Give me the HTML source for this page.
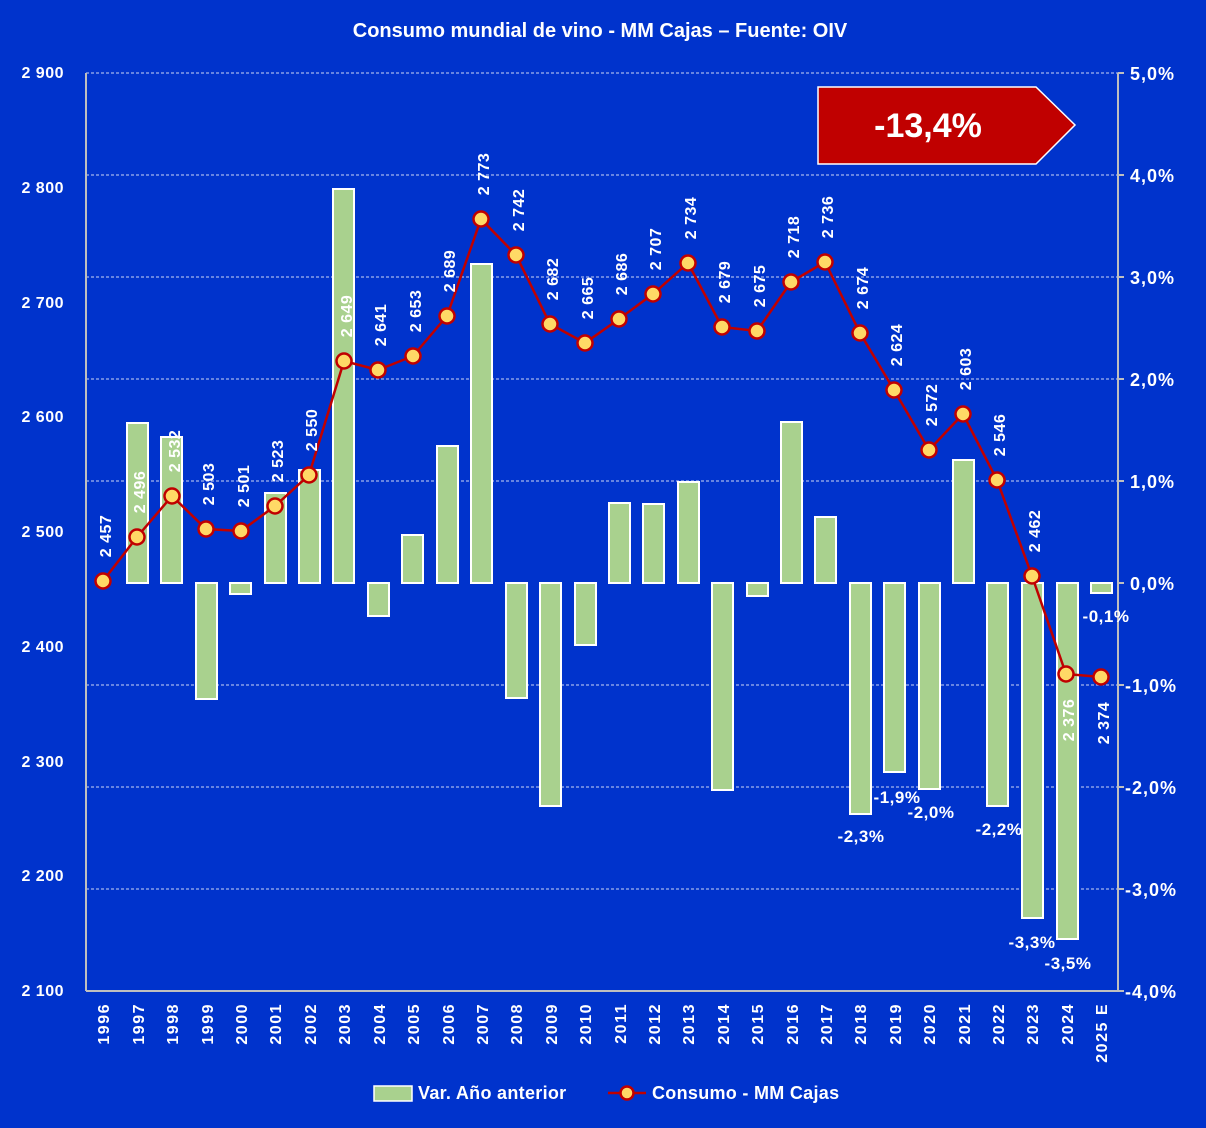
<!DOCTYPE html>
<html><head><meta charset="utf-8"><style>
html,body{margin:0;padding:0;background:#0033cc;}
svg{display:block;font-family:"Liberation Sans","DejaVu Sans",sans-serif;}
</style></head><body>
<svg width="1206" height="1128" viewBox="0 0 1206 1128" xmlns="http://www.w3.org/2000/svg">
<rect width="1206" height="1128" fill="#0033cc"/>
<text x="600" y="37" fill="#fff" font-size="20" font-weight="bold" text-anchor="middle">Consumo mundial de vino - MM Cajas – Fuente: OIV</text>
<g stroke="#fff" stroke-width="1" stroke-dasharray="3,2" opacity="0.8">
<line x1="86" y1="73" x2="1118" y2="73"/>
<line x1="86" y1="175" x2="1118" y2="175"/>
<line x1="86" y1="277" x2="1118" y2="277"/>
<line x1="86" y1="379" x2="1118" y2="379"/>
<line x1="86" y1="481" x2="1118" y2="481"/>
<line x1="86" y1="685" x2="1118" y2="685"/>
<line x1="86" y1="787" x2="1118" y2="787"/>
<line x1="86" y1="889" x2="1118" y2="889"/>
</g>
<g stroke="#bfbfbf" stroke-width="2">
<line x1="86" y1="73" x2="86" y2="991"/>
<line x1="86" y1="991" x2="1118" y2="991"/>
<line x1="1118" y1="73" x2="1118" y2="991"/>
<line x1="1118" y1="73" x2="1124" y2="73"/><line x1="1118" y1="175" x2="1124" y2="175"/><line x1="1118" y1="277" x2="1124" y2="277"/><line x1="1118" y1="379" x2="1124" y2="379"/><line x1="1118" y1="481" x2="1124" y2="481"/><line x1="1118" y1="583" x2="1124" y2="583"/><line x1="1118" y1="685" x2="1124" y2="685"/><line x1="1118" y1="787" x2="1124" y2="787"/><line x1="1118" y1="889" x2="1124" y2="889"/><line x1="1118" y1="991" x2="1124" y2="991"/>
</g>
<g fill="#fff" font-size="16" font-weight="bold" text-anchor="end" letter-spacing="0.5">
<text x="64" y="78">2 900</text><text x="64" y="193">2 800</text><text x="64" y="308">2 700</text><text x="64" y="422">2 600</text><text x="64" y="537">2 500</text><text x="64" y="652">2 400</text><text x="64" y="767">2 300</text><text x="64" y="881">2 200</text><text x="64" y="996">2 100</text>
</g>
<g fill="#fff" font-size="18" font-weight="bold" letter-spacing="1">
<text x="1130" y="80">5,0%</text><text x="1130" y="182">4,0%</text><text x="1130" y="284">3,0%</text><text x="1130" y="386">2,0%</text><text x="1130" y="488">1,0%</text><text x="1130" y="590">0,0%</text><text x="1125" y="692">-1,0%</text><text x="1125" y="794">-2,0%</text><text x="1125" y="896">-3,0%</text><text x="1125" y="998">-4,0%</text>
</g>
<g fill="#a9d18e" stroke="#fff" stroke-width="2">
<rect x="127" y="423" width="21" height="160"/>
<rect x="161" y="437" width="21" height="146"/>
<rect x="196" y="583" width="21" height="116"/>
<rect x="230" y="583" width="21" height="11"/>
<rect x="265" y="493" width="21" height="90"/>
<rect x="299" y="470" width="21" height="113"/>
<rect x="333" y="189" width="21" height="394"/>
<rect x="368" y="583" width="21" height="33"/>
<rect x="402" y="535" width="21" height="48"/>
<rect x="437" y="446" width="21" height="137"/>
<rect x="471" y="264" width="21" height="319"/>
<rect x="506" y="583" width="21" height="115"/>
<rect x="540" y="583" width="21" height="223"/>
<rect x="575" y="583" width="21" height="62"/>
<rect x="609" y="503" width="21" height="80"/>
<rect x="643" y="504" width="21" height="79"/>
<rect x="678" y="482" width="21" height="101"/>
<rect x="712" y="583" width="21" height="207"/>
<rect x="747" y="583" width="21" height="13"/>
<rect x="781" y="422" width="21" height="161"/>
<rect x="815" y="517" width="21" height="66"/>
<rect x="850" y="583" width="21" height="231"/>
<rect x="884" y="583" width="21" height="189"/>
<rect x="919" y="583" width="21" height="206"/>
<rect x="953" y="460" width="21" height="123"/>
<rect x="987" y="583" width="21" height="223"/>
<rect x="1022" y="583" width="21" height="335"/>
<rect x="1057" y="583" width="21" height="356"/>
<rect x="1091" y="583" width="21" height="10"/>
</g>
<polyline fill="none" stroke="#c00000" stroke-width="2.5" points="103,581 137,537 172,496 206,529 241,531 275,506 309,475 344,361 378,370 413,356 447,316 481,219 516,255 550,324 585,343 619,319 653,294 688,263 722,327 757,331 791,282 825,262 860,333 894,390 929,450 963,414 997,480 1032,576 1066,674 1101,677"/>
<g fill="#ffd966" stroke="#c00000" stroke-width="2.5">
<circle cx="103" cy="581" r="7.5"/><circle cx="137" cy="537" r="7.5"/><circle cx="172" cy="496" r="7.5"/><circle cx="206" cy="529" r="7.5"/><circle cx="241" cy="531" r="7.5"/><circle cx="275" cy="506" r="7.5"/><circle cx="309" cy="475" r="7.5"/><circle cx="344" cy="361" r="7.5"/><circle cx="378" cy="370" r="7.5"/><circle cx="413" cy="356" r="7.5"/><circle cx="447" cy="316" r="7.5"/><circle cx="481" cy="219" r="7.5"/><circle cx="516" cy="255" r="7.5"/><circle cx="550" cy="324" r="7.5"/><circle cx="585" cy="343" r="7.5"/><circle cx="619" cy="319" r="7.5"/><circle cx="653" cy="294" r="7.5"/><circle cx="688" cy="263" r="7.5"/><circle cx="722" cy="327" r="7.5"/><circle cx="757" cy="331" r="7.5"/><circle cx="791" cy="282" r="7.5"/><circle cx="825" cy="262" r="7.5"/><circle cx="860" cy="333" r="7.5"/><circle cx="894" cy="390" r="7.5"/><circle cx="929" cy="450" r="7.5"/><circle cx="963" cy="414" r="7.5"/><circle cx="997" cy="480" r="7.5"/><circle cx="1032" cy="576" r="7.5"/><circle cx="1066" cy="674" r="7.5"/><circle cx="1101" cy="677" r="7.5"/>
</g>
<g fill="#fff" font-size="16" font-weight="bold" text-anchor="middle" letter-spacing="0.5">
<text transform="translate(111,536) rotate(-90)">2 457</text>
<text transform="translate(145,492) rotate(-90)">2 496</text>
<text transform="translate(180,451) rotate(-90)">2 532</text>
<text transform="translate(214,484) rotate(-90)">2 503</text>
<text transform="translate(249,486) rotate(-90)">2 501</text>
<text transform="translate(283,461) rotate(-90)">2 523</text>
<text transform="translate(317,430) rotate(-90)">2 550</text>
<text transform="translate(352,316) rotate(-90)">2 649</text>
<text transform="translate(386,325) rotate(-90)">2 641</text>
<text transform="translate(421,311) rotate(-90)">2 653</text>
<text transform="translate(455,271) rotate(-90)">2 689</text>
<text transform="translate(489,174) rotate(-90)">2 773</text>
<text transform="translate(524,210) rotate(-90)">2 742</text>
<text transform="translate(558,279) rotate(-90)">2 682</text>
<text transform="translate(593,298) rotate(-90)">2 665</text>
<text transform="translate(627,274) rotate(-90)">2 686</text>
<text transform="translate(661,249) rotate(-90)">2 707</text>
<text transform="translate(696,218) rotate(-90)">2 734</text>
<text transform="translate(730,282) rotate(-90)">2 679</text>
<text transform="translate(765,286) rotate(-90)">2 675</text>
<text transform="translate(799,237) rotate(-90)">2 718</text>
<text transform="translate(833,217) rotate(-90)">2 736</text>
<text transform="translate(868,288) rotate(-90)">2 674</text>
<text transform="translate(902,345) rotate(-90)">2 624</text>
<text transform="translate(937,405) rotate(-90)">2 572</text>
<text transform="translate(971,369) rotate(-90)">2 603</text>
<text transform="translate(1005,435) rotate(-90)">2 546</text>
<text transform="translate(1040,531) rotate(-90)">2 462</text>
<text transform="translate(1074,720) rotate(-90)">2 376</text>
<text transform="translate(1109,723) rotate(-90)">2 374</text>
</g>
<g fill="#fff" font-size="17" font-weight="bold" text-anchor="middle" letter-spacing="0.5">
<text x="861" y="842">-2,3%</text>
<text x="897" y="803">-1,9%</text>
<text x="931" y="818">-2,0%</text>
<text x="999" y="835">-2,2%</text>
<text x="1032" y="948">-3,3%</text>
<text x="1068" y="969">-3,5%</text>
<text x="1106" y="622">-0,1%</text>
</g>
<g fill="#fff" font-size="16" font-weight="bold" text-anchor="end" letter-spacing="1.5">
<text transform="translate(109,1003) rotate(-90)">1996</text>
<text transform="translate(144,1003) rotate(-90)">1997</text>
<text transform="translate(178,1003) rotate(-90)">1998</text>
<text transform="translate(213,1003) rotate(-90)">1999</text>
<text transform="translate(247,1003) rotate(-90)">2000</text>
<text transform="translate(281,1003) rotate(-90)">2001</text>
<text transform="translate(316,1003) rotate(-90)">2002</text>
<text transform="translate(350,1003) rotate(-90)">2003</text>
<text transform="translate(385,1003) rotate(-90)">2004</text>
<text transform="translate(419,1003) rotate(-90)">2005</text>
<text transform="translate(454,1003) rotate(-90)">2006</text>
<text transform="translate(488,1003) rotate(-90)">2007</text>
<text transform="translate(522,1003) rotate(-90)">2008</text>
<text transform="translate(557,1003) rotate(-90)">2009</text>
<text transform="translate(591,1003) rotate(-90)">2010</text>
<text transform="translate(626,1003) rotate(-90)">2011</text>
<text transform="translate(660,1003) rotate(-90)">2012</text>
<text transform="translate(694,1003) rotate(-90)">2013</text>
<text transform="translate(729,1003) rotate(-90)">2014</text>
<text transform="translate(763,1003) rotate(-90)">2015</text>
<text transform="translate(798,1003) rotate(-90)">2016</text>
<text transform="translate(832,1003) rotate(-90)">2017</text>
<text transform="translate(866,1003) rotate(-90)">2018</text>
<text transform="translate(901,1003) rotate(-90)">2019</text>
<text transform="translate(935,1003) rotate(-90)">2020</text>
<text transform="translate(970,1003) rotate(-90)">2021</text>
<text transform="translate(1004,1003) rotate(-90)">2022</text>
<text transform="translate(1038,1003) rotate(-90)">2023</text>
<text transform="translate(1073,1003) rotate(-90)">2024</text>
<text transform="translate(1107,1003) rotate(-90)">2025 E</text>
</g>
<polygon points="818,87 1036,87 1075,125 1036,164 818,164" fill="#c00000" stroke="#fff" stroke-width="1.5"/>
<text x="928" y="137" fill="#fff" font-size="34" font-weight="bold" text-anchor="middle">-13,4%</text>
<rect x="374" y="1086" width="38" height="15" fill="#a9d18e" stroke="#fff" stroke-width="1.5"/>
<text x="418" y="1099" fill="#fff" font-size="18" font-weight="bold" letter-spacing="0.3">Var. Año anterior</text>
<line x1="608" y1="1093" x2="646" y2="1093" stroke="#c00000" stroke-width="2.5"/>
<circle cx="627" cy="1093" r="6.5" fill="#ffd966" stroke="#c00000" stroke-width="2.5"/>
<text x="652" y="1099" fill="#fff" font-size="18" font-weight="bold" letter-spacing="0.3">Consumo - MM Cajas</text>
</svg>
</body></html>
